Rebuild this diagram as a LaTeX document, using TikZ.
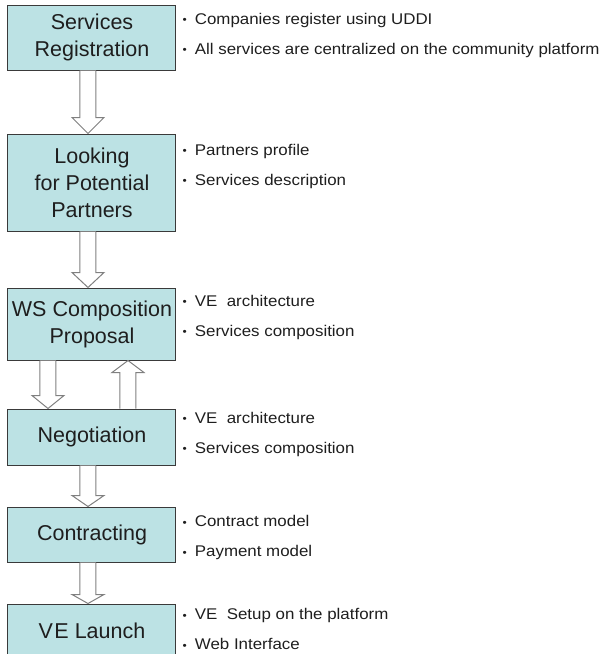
\documentclass[tikz,border=0pt]{standalone}
\usepackage{fontspec}
\setmainfont{Liberation Sans}
\newfontfamily\notefont[FakeStretch=1.09]{Liberation Sans}
\usepackage{xcolor}
\usetikzlibrary{positioning,calc}

\definecolor{boxfill}{HTML}{BCE2E4}
\definecolor{boxline}{HTML}{3A3A3A}
\definecolor{arrowgray}{HTML}{808080}
\definecolor{textgray}{HTML}{1E1E1E}

\newcommand{\bul}{\raisebox{0.5pt}{\fontsize{11}{11}\selectfont\textbullet}\hspace{8pt}}
% hollow block arrow: tail, tip, signed head length
\newcommand{\fatarrow}[3]{%
  \draw[hollow arrow] let \p1=(#1), \p2=(#2) in
    (\x2-8pt,\y1) -- (\x2-8pt,\y2+#3) -- (\x2-16pt,\y2+#3) -- (\x2,\y2)
    -- (\x2+16pt,\y2+#3) -- (\x2+8pt,\y2+#3) -- (\x2+8pt,\y1);}

\tikzset{
  phase/.style={draw=boxline, line width=1pt, fill=boxfill, minimum width=168pt,
    inner sep=2pt, align=center, text=textgray, font=\fontsize{21.5}{27}\selectfont},
  notes/.style={align=left, inner sep=0pt, text=textgray,
    font=\notefont\fontsize{15.5}{30}\selectfont},
  hollow arrow/.style={draw=arrowgray, fill=white, line width=1pt, line join=miter},
}

\begin{document}
\begin{tikzpicture}
   \useasboundingbox (-92pt,37.5pt) rectangle ++(605pt,-654pt);
   \node[phase, minimum height=65pt] (reg) at (0,0) {Services\\Registration};
   \node[phase, minimum height=97pt, below=63pt of reg] (look) {Looking\\for Potential\\Partners};
   \node[phase, minimum height=72pt, below=56pt of look] (comp) {WS Composition\\Proposal};
   \node[phase, minimum height=56pt, below=48pt of comp] (nego) {Negotiation};
   \node[phase, minimum height=55pt, below=41pt of nego] (contr) {Contracting};
   \node[phase, minimum height=53pt, below=41pt of contr] (launch) {V\kern1.5pt E Launch};

   \node[notes, right=6pt of reg, yshift=2.5pt] (regnotes)
     {\bul Companies register using UDDI\\\bul All services are centralized on the community platform};
   \node[notes, right=6pt of look, yshift=16.5pt] (looknotes)
     {\bul Partners profile\\\bul Services description};
   \node[notes, right=6pt of comp, yshift=7pt] (compnotes)
     {\bul VE\ \ architecture\\\bul Services composition};
   \node[notes, right=6pt of nego, yshift=3pt] (negonotes)
     {\bul VE\ \ architecture\\\bul Services composition};
   \node[notes, right=6pt of contr, yshift=-3pt] (contrnotes)
     {\bul Contract model\\\bul Payment model};
   \node[notes, right=6pt of launch, yshift=1.5pt] (launchnotes)
     {\bul VE\ \ Setup on the platform\\\bul Web Interface};

   \fatarrow{$(reg.south)+(-4pt,0)$}{$(look.north)+(-4pt,0)$}{16pt}
   \fatarrow{$(look.south)+(-4pt,0)$}{$(comp.north)+(-4pt,0)$}{15pt}
   \fatarrow{$(comp.south)+(-44pt,0)$}{$(nego.north)+(-44pt,0)$}{13pt}
   \fatarrow{$(nego.north)+(36pt,0)$}{$(comp.south)+(36pt,0)$}{-12pt}
   \fatarrow{$(nego.south)+(-4pt,0)$}{$(contr.north)+(-4pt,0)$}{11pt}
   \fatarrow{$(contr.south)+(-4pt,0)$}{$(launch.north)+(-4pt,0)$}{9pt}
\end{tikzpicture}
\end{document}
